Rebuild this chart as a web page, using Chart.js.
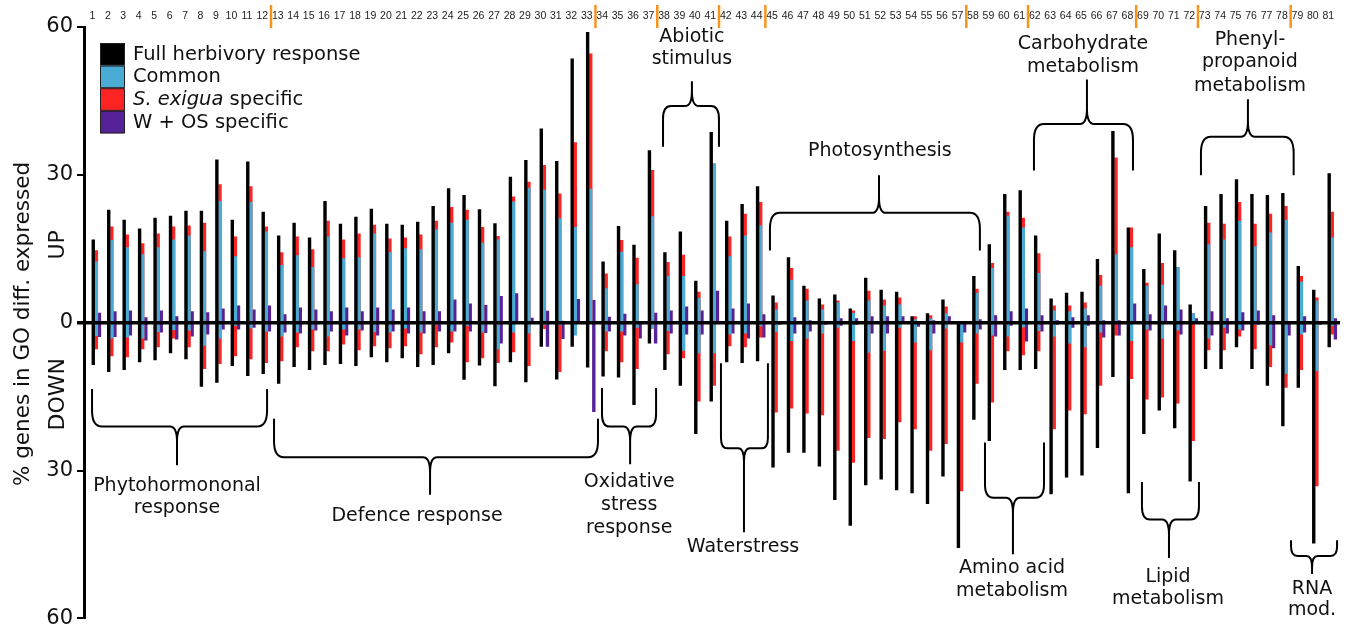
<!DOCTYPE html>
<html>
<head>
<meta charset="utf-8">
<script src="https://cdn.jsdelivr.net/npm/chart.js@4.4.0/dist/chart.umd.min.js"></script>
<style>
  html, body { margin: 0; padding: 0; background: #fff; }
  #wrap { width: 1346px; height: 635px; position: relative; }
</style>
</head>
<body>
<div id="wrap"><canvas id="c"></canvas></div>
<script>
// ---------------- DATA ----------------
const categories = [1,2,3,4,5,6,7,8,9,10,11,12,13,14,15,16,17,18,19,20,21,22,23,24,25,26,27,28,29,30,31,32,33,34,35,36,37,38,39,40,41,42,43,44,45,46,47,48,49,50,51,52,53,54,55,56,57,58,59,60,61,62,63,64,65,66,67,68,69,70,71,72,73,74,75,76,77,78,79,80,81];

// Percent of genes UP-regulated
const fullUp    = [16.9,22.9,20.9,19.1,21.3,21.7,22.7,22.7,33.1,20.9,32.7,22.5,17.7,20.3,17.3,24.7,20.1,21.5,23.1,20.1,19.9,20.5,23.7,27.3,25.9,23,20.2,29.6,33,39.4,32.8,53.6,59,12.4,19.6,15.8,35,14.3,18.5,8.5,38.7,20.7,24.1,27.7,5.5,13.3,7.5,4.9,5.7,2.9,9.1,6.7,6.3,1.3,1.9,4.7,0,9.5,15.9,26.1,26.9,17.7,4.9,6.1,6.3,12.9,38.9,19.3,10.9,18.1,14.7,3.7,23.7,26.1,29.1,26.1,25.9,26.3,11.5,6.7,30.3];
const commonUp  = [12.4,16.8,15.3,13.9,15.3,16.9,17.7,14.5,24.7,13.5,24.5,18.5,11.7,13.7,11.3,17.5,13.1,13.3,18.1,14.3,15.1,14.9,18.9,20.3,20.9,16.2,16.9,24.6,27.4,27,21.2,19.4,27.2,7,14.4,7.8,21.6,9.5,9.5,5,32.3,13.5,17.7,19.7,2.7,8.7,4.5,2.7,4.1,2,4.5,3.5,3.7,0.7,0.9,1.9,0,6.1,11.1,21.7,19.3,10.1,2.5,2.3,2.9,7.5,13.9,15.3,7.5,7.7,11.3,1.9,15.9,16.9,20.7,15.5,18.3,20.9,8.3,4.5,17.3];
const exiguaUp  = [14.7,19.5,17.9,16.1,18.1,19.5,19.7,20.3,28.1,17.5,27.7,19.5,14.3,17.5,14.9,20.7,16.9,18.1,19.9,17.1,17.3,17.9,20.7,23.5,22.9,19.4,17.6,25.6,28.6,32,26.2,36.6,54.6,10,16.8,13.2,31,12.3,13.8,6.3,32.3,17.5,22.1,24.5,4.1,11.1,6.9,3.7,4.5,2.5,6.5,4.7,5.1,1.3,1.5,3.3,0,6.9,12.1,22.5,21.3,14.1,3.5,3.5,4.1,9.7,33.5,19.3,8.1,12.1,11.3,1.9,20.3,20.1,24.5,20.1,22.1,23.7,9.5,5.1,22.5];
const wosUp     = [2,2.3,2.5,1.1,2.5,1.3,2.3,2.1,2.9,3.5,2.7,3.5,1.7,3.1,2.7,2.3,3.1,2.3,3.1,2.7,3.1,2.3,2.3,4.7,3.9,3.6,5.4,6,1,2.4,0.4,4.8,4.6,1.2,1.8,0,2,2.5,3.3,2.5,6.5,2.9,3.9,1.7,0.3,1.1,0.5,0,0.9,0.9,1.3,1.3,1.3,0.3,0.5,1.3,0,0.7,1.5,2.3,2.9,1.5,0.5,1.1,1.5,0.5,0.5,3.9,1.7,3.5,2.7,0.9,2.3,0.9,2.1,2.5,1.5,0,1.3,0,0.9];

// Percent of genes DOWN-regulated (magnitudes)
const fullDown   = [8.6,10,9.6,8,7.6,6.2,7.4,13,12.2,8.8,10.8,10.4,12.4,9,9.6,8.6,8.4,8.8,7,8,7.2,9,8.6,6.2,11.6,8.7,12.9,8,12.1,4.9,11.5,4.9,9.1,10.9,11.1,16.7,4.2,9.6,12.8,22.6,16,8,8.2,7.8,29.4,26.4,26.4,29.2,36,41.2,33,31.8,34,34.6,36.8,31.2,45.7,19.7,24,9.6,9.6,9.4,34.8,31.4,31,25.4,11,34.6,22.6,17.8,21.4,32.2,9.4,9.4,5,9.4,12.8,21,13.2,44.8,5];
const commonDown = [2.7,3.2,3,3.2,1.9,1.5,1.6,4.7,3.2,0.6,1.2,1.8,2.8,2,1.4,2.8,1.4,1.4,1.9,2,1.2,2,0.4,1.8,0.6,2,5.4,2,2.2,0.5,0.5,2.6,0,1.8,1.8,1,1.2,1.7,5.7,6.2,6.2,2.4,2.2,0.7,1.9,3.7,3.2,2.2,1,3.7,6.1,5.7,1,4,5.6,1.2,4,2.2,2.6,2.8,0.9,1.7,2.8,4.2,5,2,0.3,3.7,1.4,3.2,1.6,0,3.2,1,1.4,0.4,4.6,10.4,2.4,9.8,0.6];
const exiguaDown = [5.4,6.8,7,5.4,5,3.2,5,9.4,8.4,6.8,7.4,8.2,7.8,5,5.8,5.8,4.4,5.6,4.8,5.2,4.8,6.4,5,4,8,7.2,8.2,6,8.8,1.3,10,0,0,5.8,8,9.4,1.2,6.4,7.2,16,12.8,4.8,5,3,18.2,17.4,18.4,18.8,26,28.4,23.4,23.6,20.2,21.6,26,24.6,34.2,12.4,16.2,5.8,6.6,5.8,21.6,17.8,18.6,12.8,2.6,11.4,15.6,15.2,16.4,24,5.6,5.6,2.8,5.4,9,13.2,9.6,33.2,2.4];
const wosDown    = [2.9,2.9,2.6,3.6,2,3.4,2.8,2.4,1.4,1.4,1,1.8,2,2.2,1.6,1.8,2.6,1.6,2.6,1.8,2.2,2.2,1.8,1.8,1.8,2.1,4.2,0,0,4.9,3.3,0,18.1,1.8,2.6,3.2,4.2,2.2,2.4,2.4,0,2.2,3.2,3,0.4,2.2,1.8,0.4,0.6,0.4,2.2,2.2,0,0.8,2.2,0,2,1.4,2.8,0.6,3.8,1.8,0.4,1,0.6,3,2.6,0,1.6,0,2.4,0,2.6,2.2,1.6,0.4,5.2,2.6,2,0.4,3.4];

// Series names and colours
const seriesNames  = ['Full herbivory response', 'Common', 'S. exigua specific', 'W + OS specific'];
const italicPrefix = 'S. exigua';
const seriesColors = ['#000000', '#4aabd4', '#ff2424', '#552297'];

// Boundaries between functional groups (after these category numbers)
const groupBreaks = [12, 33, 37, 41, 44, 57, 61, 68, 72, 78];

// y tick labels shown as absolute values
const yTickValues = [-60, -30, 0, 30, 60];

// Group annotations (brace in category / value units)
const groupNotes = [
  { lines: ['Phytohormononal', 'response'], x1: 0.72, x2: 12.05, xc: 6.22, yTip: -13.45, yBar: -21.07, yPt: -28.9, lx: 6.22, ly: [-33.1, -37.7] },
  { lines: ['Defence response'], x1: 12.5, x2: 33.47, xc: 22.6, yTip: -19.47, yBar: -27.3, yPt: -34.9, lx: 21.76, ly: [-39.3] },
  { lines: ['Oxidative', 'stress', 'response'], x1: 33.73, x2: 37.23, xc: 35.55, yTip: -13.25, yBar: -21.07, yPt: -28.7, lx: 35.49, ly: [-32.3, -37.1, -41.7] },
  { lines: ['Abiotic', 'stimulus'], x1: 37.68, x2: 41.3, xc: 39.55, yTip: 35.7, yBar: 43.95, yPt: 48.97, lx: 39.55, ly: [58.0, 53.4] },
  { lines: ['Waterstress'], x1: 41.43, x2: 44.47, xc: 42.92, yTip: -8.23, yBar: -25.5, yPt: -42.5, lx: 42.86, ly: [-45.55] },
  { lines: ['Photosynthesis'], x1: 44.6, x2: 58.19, xc: 51.66, yTip: 14.65, yBar: 22.3, yPt: 29.9, lx: 51.72, ly: [34.9] },
  { lines: ['Carbohydrate', 'metabolism'], x1: 61.69, x2: 68.1, xc: 65.12, yTip: 30.9, yBar: 40.34, yPt: 49.37, lx: 64.86, ly: [56.6, 51.8] },
  { lines: ['Phenyl-', 'propanoid', 'metabolism'], x1: 72.5, x2: 78.5, xc: 75.54, yTip: 29.9, yBar: 37.73, yPt: 45.35, lx: 75.67, ly: [57.4, 52.8, 47.96] },
  { lines: ['Amino acid', 'metabolism'], x1: 58.52, x2: 62.34, xc: 60.33, yTip: -24.3, yBar: -35.5, yPt: -46.96, lx: 60.27, ly: [-49.77, -54.4] },
  { lines: ['Lipid', 'metabolism'], x1: 68.68, x2: 72.37, xc: 70.43, yTip: -32.3, yBar: -39.94, yPt: -47.76, lx: 70.37, ly: [-51.6, -56.0] },
  { lines: ['RNA', 'mod.'], x1: 78.33, x2: 81.31, xc: 79.69, yTip: -44.15, yBar: -47.36, yPt: -50.97, lx: 79.69, ly: [-53.98, -58.4] }
];

// ---------------- BUILD ----------------
function floating(upArr, downArr) {
  return categories.map((c, i) => ({ x: c, y: [-downArr[i], upArr[i]] }));
}

const datasets = [
  { label: seriesNames[0], data: floating(fullUp, fullDown),     backgroundColor: seriesColors[0], stack: 'full' },
  { label: seriesNames[1], data: floating(commonUp, commonDown), backgroundColor: seriesColors[1], stack: 'exi' },
  { label: seriesNames[2], data: floating(exiguaUp, exiguaDown), backgroundColor: seriesColors[2], stack: 'exi' },
  { label: seriesNames[3], data: floating(wosUp, wosDown),       backgroundColor: seriesColors[3], stack: 'wos' }
];

const FONT = '"DejaVu Sans", Verdana, sans-serif';

function drawBrace(ctx, x1, x2, xc, yTip, yBar, yPt) {
  const d = Math.sign(yPt - yTip);
  const w = x2 - x1;
  const rx = Math.min(10, w / 7);
  const ry = Math.min(rx * 1.6, Math.abs(yBar - yTip) * 0.6);
  const cx = Math.min(7, w / 8);
  const cy = Math.min(cx * 2.2, Math.abs(yPt - yBar) * 0.6);
  ctx.beginPath();
  ctx.moveTo(x1, yTip);
  ctx.lineTo(x1, yBar - d * ry);
  ctx.quadraticCurveTo(x1, yBar, x1 + rx, yBar);
  ctx.lineTo(xc - cx, yBar);
  ctx.quadraticCurveTo(xc, yBar, xc, yBar + d * cy);
  ctx.lineTo(xc, yPt);
  ctx.moveTo(xc, yBar + d * cy);
  ctx.quadraticCurveTo(xc, yBar, xc + cx, yBar);
  ctx.lineTo(x2 - rx, yBar);
  ctx.quadraticCurveTo(x2, yBar, x2, yBar - d * ry);
  ctx.lineTo(x2, yTip);
  ctx.stroke();
}

const decor = {
  id: 'decor',
  afterDatasetsDraw(chart) {
    const { ctx, chartArea } = chart;
    const xs = chart.scales.x, ys = chart.scales.y;
    ctx.save();

    // zero line
    const y0 = ys.getPixelForValue(0);
    ctx.strokeStyle = '#000';
    ctx.lineWidth = 3.5;
    ctx.beginPath();
    ctx.moveTo(chartArea.left - 7, y0);
    ctx.lineTo(chartArea.right, y0);
    ctx.stroke();

    // top category numbers
    ctx.fillStyle = '#222';
    ctx.font = '10.5px "Liberation Sans", Arial, sans-serif';
    ctx.textAlign = 'center';
    ctx.textBaseline = 'middle';
    categories.forEach(c => {
      ctx.fillText(String(c), xs.getPixelForValue(c) - 4, 16);
    });

    // orange group separators
    ctx.strokeStyle = '#f7941d';
    ctx.lineWidth = 2.5;
    groupBreaks.forEach(b => {
      const px = xs.getPixelForValue(b + 0.5) - 3;
      ctx.beginPath();
      ctx.moveTo(px, 5);
      ctx.lineTo(px, 28);
      ctx.stroke();
    });

    // braces and labels
    ctx.strokeStyle = '#000';
    ctx.lineWidth = 2;
    ctx.lineJoin = 'round';
    ctx.fillStyle = '#111';
    ctx.font = '19px ' + FONT;
    ctx.textAlign = 'center';
    ctx.textBaseline = 'middle';
    groupNotes.forEach(g => {
      drawBrace(ctx,
        xs.getPixelForValue(g.x1), xs.getPixelForValue(g.x2), xs.getPixelForValue(g.xc),
        ys.getPixelForValue(g.yTip), ys.getPixelForValue(g.yBar), ys.getPixelForValue(g.yPt));
      g.lines.forEach((t, k) => {
        ctx.fillText(t, xs.getPixelForValue(g.lx), ys.getPixelForValue(g.ly[k]));
      });
    });

    // legend
    const lx = 100, lw = 25, lh = 22.6, ly0 = 43;
    ctx.textAlign = 'left';
    ctx.textBaseline = 'middle';
    seriesNames.forEach((name, i) => {
      const top = ly0 + i * lh;
      ctx.fillStyle = seriesColors[i];
      ctx.fillRect(lx, top, lw, lh);
      ctx.strokeStyle = '#222';
      ctx.lineWidth = 1;
      ctx.strokeRect(lx + 0.5, top + 0.5, lw - 1, lh - 1);
      ctx.fillStyle = '#111';
      const ty = top + lh / 2 + 0.5;
      if (name.startsWith(italicPrefix)) {
        ctx.font = 'italic 19.5px ' + FONT;
        ctx.fillText(italicPrefix, 133, ty);
        const w = ctx.measureText(italicPrefix).width;
        ctx.font = '19.5px ' + FONT;
        ctx.fillText(name.slice(italicPrefix.length), 133 + w, ty);
      } else {
        ctx.font = '19.5px ' + FONT;
        ctx.fillText(name, 133, ty);
      }
    });

    // axis titles
    ctx.fillStyle = '#111';
    ctx.textAlign = 'center';
    ctx.textBaseline = 'middle';
    ctx.save();
    ctx.translate(23, 324);
    ctx.rotate(-Math.PI / 2);
    ctx.font = '21.5px ' + FONT;
    ctx.fillText('% genes in GO diff. expressed', 0, 0);
    ctx.restore();
    ctx.save();
    ctx.translate(58, ys.getPixelForValue(15.8));
    ctx.rotate(-Math.PI / 2);
    ctx.font = '22px ' + FONT;
    ctx.fillText('UP', 0, 0);
    ctx.restore();
    ctx.save();
    ctx.translate(58, ys.getPixelForValue(-14.5));
    ctx.rotate(-Math.PI / 2);
    ctx.font = '22px ' + FONT;
    ctx.fillText('DOWN', 0, 0);
    ctx.restore();

    ctx.restore();
  }
};

new Chart(document.getElementById('c'), {
  type: 'bar',
  data: { datasets },
  options: {
    responsive: true,
    maintainAspectRatio: false,
    animation: false,
    layout: { padding: { top: 27, bottom: 10, right: 6, left: 0 } },
    categoryPercentage: 0.6,
    barPercentage: 1.1,
    plugins: { legend: { display: false }, tooltip: { enabled: false } },
    scales: {
      x: {
        type: 'linear',
        min: 0.2,
        max: 81.5,
        offset: false,
        bounds: 'ticks',
        grace: 0,
        stacked: true,
        display: false,
        afterDataLimits: (scale) => { scale.min = 0.2; scale.max = 81.5; }
      },
      y: {
        stacked: false,
        min: -60,
        max: 60,
        afterFit: (scale) => { scale.width = 84; },
        afterBuildTicks: (scale) => { scale.ticks = yTickValues.map(v => ({ value: v })); },
        border: { display: true, color: '#000', width: 3 },
        grid: { drawOnChartArea: false, drawTicks: true, tickLength: 7, color: '#000', lineWidth: 2 },
        ticks: {
          color: '#111',
          padding: 4,
          font: { family: FONT, size: 21 },
          callback: (v) => String(Math.abs(v))
        }
      }
    }
  },
  plugins: [decor]
});
</script>
</body>
</html>
